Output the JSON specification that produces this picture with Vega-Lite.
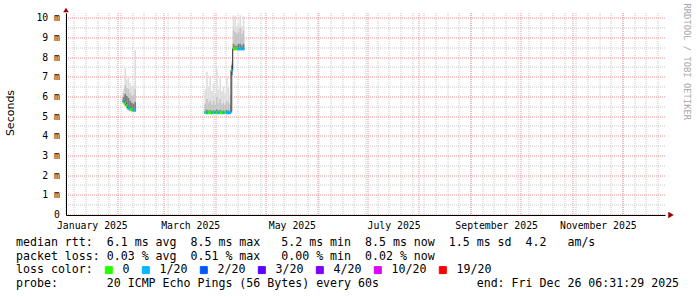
{
  "$schema": "https://vega.github.io/schema/vega-lite/v6.json",
  "width": 599,
  "height": 202,
  "autosize": {"type": "none"},
  "padding": {"left": 66, "top": 13, "right": 32, "bottom": 82},
  "background": "#ffffff",
  "config": {
    "view": {"stroke": null},
    "axis": {"labelFont": "DejaVu Sans Mono", "labelFontSize": 9.8, "labelColor": "#000000", "titleFont": "DejaVu Sans Mono", "titleColor": "#000000", "titleFontWeight": "normal"}
  },
  "datasets": {
    "smoke": [
      {"t":"2025-02-04T00:00:00","t2":"2025-02-05T00:00:00","seg":"a","loss":"1/20","med":0.0058,"lo":0.0056,"q1":0.00565,"d1":0.00572,"d2":0.006,"q3":0.0062,"hi":0.0064},
      {"t":"2025-02-05T00:00:00","t2":"2025-02-06T00:00:00","seg":"a","loss":"0","med":0.0057,"lo":0.00548,"q1":0.00555,"d1":0.00562,"d2":0.00615,"q3":0.0066,"hi":0.00746},
      {"t":"2025-02-06T00:00:00","t2":"2025-02-07T00:00:00","seg":"a","loss":"0","med":0.00555,"lo":0.00535,"q1":0.00542,"d1":0.00548,"d2":0.00605,"q3":0.00645,"hi":0.0069},
      {"t":"2025-02-07T00:00:00","t2":"2025-02-08T00:00:00","seg":"a","loss":"1/20","med":0.00545,"lo":0.00528,"q1":0.00535,"d1":0.00538,"d2":0.00595,"q3":0.0064,"hi":0.00707},
      {"t":"2025-02-08T00:00:00","t2":"2025-02-09T00:00:00","seg":"a","loss":"0","med":0.00538,"lo":0.00525,"q1":0.0053,"d1":0.00532,"d2":0.0058,"q3":0.0062,"hi":0.0067},
      {"t":"2025-02-09T00:00:00","t2":"2025-02-10T00:00:00","seg":"a","loss":"0","med":0.00535,"lo":0.00522,"q1":0.00528,"d1":0.0053,"d2":0.0057,"q3":0.00605,"hi":0.00655},
      {"t":"2025-02-10T00:00:00","t2":"2025-02-11T00:00:00","seg":"a","loss":"1/20","med":0.00533,"lo":0.00522,"q1":0.00527,"d1":0.00528,"d2":0.00565,"q3":0.0061,"hi":0.0066},
      {"t":"2025-02-11T00:00:00","t2":"2025-02-12T00:00:00","seg":"a","loss":"1/20","med":0.00533,"lo":0.00522,"q1":0.00527,"d1":0.00528,"d2":0.00575,"q3":0.0064,"hi":0.00838},
      {"t":"2025-03-25T00:00:00","t2":"2025-03-26T00:00:00","seg":"b","loss":"0","med":0.00521,"lo":0.00512,"q1":0.00515,"d1":0.00517,"d2":0.0053,"q3":0.00565,"hi":0.0064},
      {"t":"2025-03-26T00:00:00","t2":"2025-03-27T00:00:00","seg":"b","loss":"1/20","med":0.0052,"lo":0.00512,"q1":0.00515,"d1":0.00517,"d2":0.00535,"q3":0.0059,"hi":0.00727},
      {"t":"2025-03-27T00:00:00","t2":"2025-03-28T00:00:00","seg":"b","loss":"0","med":0.0052,"lo":0.00512,"q1":0.00515,"d1":0.00517,"d2":0.0053,"q3":0.0057,"hi":0.0065},
      {"t":"2025-03-28T00:00:00","t2":"2025-03-29T00:00:00","seg":"b","loss":"0","med":0.00521,"lo":0.00512,"q1":0.00515,"d1":0.00517,"d2":0.00533,"q3":0.0058,"hi":0.007},
      {"t":"2025-03-29T00:00:00","t2":"2025-03-30T00:00:00","seg":"b","loss":"1/20","med":0.0052,"lo":0.00512,"q1":0.00515,"d1":0.00517,"d2":0.0053,"q3":0.0056,"hi":0.0063},
      {"t":"2025-03-30T00:00:00","t2":"2025-03-31T00:00:00","seg":"b","loss":"0","med":0.0052,"lo":0.00512,"q1":0.00515,"d1":0.00517,"d2":0.00532,"q3":0.0058,"hi":0.0067},
      {"t":"2025-03-31T00:00:00","t2":"2025-04-01T00:00:00","seg":"b","loss":"1/20","med":0.00521,"lo":0.00512,"q1":0.00515,"d1":0.00517,"d2":0.0053,"q3":0.0056,"hi":0.0062},
      {"t":"2025-04-01T00:00:00","t2":"2025-04-02T00:00:00","seg":"b","loss":"0","med":0.0052,"lo":0.00512,"q1":0.00515,"d1":0.00517,"d2":0.00536,"q3":0.006,"hi":0.00746},
      {"t":"2025-04-02T00:00:00","t2":"2025-04-03T00:00:00","seg":"b","loss":"1/20","med":0.0052,"lo":0.00512,"q1":0.00515,"d1":0.00517,"d2":0.0053,"q3":0.0057,"hi":0.0064},
      {"t":"2025-04-03T00:00:00","t2":"2025-04-04T00:00:00","seg":"b","loss":"0","med":0.00521,"lo":0.00512,"q1":0.00515,"d1":0.00517,"d2":0.00534,"q3":0.0059,"hi":0.00695},
      {"t":"2025-04-04T00:00:00","t2":"2025-04-05T00:00:00","seg":"b","loss":"0","med":0.0052,"lo":0.00512,"q1":0.00515,"d1":0.00517,"d2":0.0053,"q3":0.0056,"hi":0.0063},
      {"t":"2025-04-05T00:00:00","t2":"2025-04-06T00:00:00","seg":"b","loss":"1/20","med":0.0052,"lo":0.00512,"q1":0.00515,"d1":0.00517,"d2":0.00531,"q3":0.0057,"hi":0.0065},
      {"t":"2025-04-06T00:00:00","t2":"2025-04-07T00:00:00","seg":"b","loss":"0","med":0.00521,"lo":0.00512,"q1":0.00515,"d1":0.00517,"d2":0.0053,"q3":0.0056,"hi":0.0062},
      {"t":"2025-04-07T00:00:00","t2":"2025-04-08T00:00:00","seg":"b","loss":"1/20","med":0.0052,"lo":0.00512,"q1":0.00515,"d1":0.00517,"d2":0.00534,"q3":0.0058,"hi":0.007},
      {"t":"2025-04-08T00:00:00","t2":"2025-04-09T00:00:00","seg":"b","loss":"1/20","med":0.0052,"lo":0.00512,"q1":0.00515,"d1":0.00517,"d2":0.0053,"q3":0.0057,"hi":0.00645},
      {"t":"2025-04-09T00:00:00","t2":"2025-04-10T00:00:00","seg":"b","loss":"1/20","med":0.00521,"lo":0.00512,"q1":0.00515,"d1":0.00517,"d2":0.0053,"q3":0.0056,"hi":0.0061},
      {"t":"2025-04-10T00:00:00","t2":"2025-04-11T00:00:00","seg":"b","loss":"1/20","med":0.00736,"lo":0.0052,"q1":0.0053,"d1":0.0071,"d2":0.0076,"q3":0.0077,"hi":0.0078},
      {"t":"2025-04-11T00:00:00","t2":"2025-04-12T00:00:00","seg":"b","loss":"0","med":0.00845,"lo":0.00835,"q1":0.00838,"d1":0.0084,"d2":0.0087,"q3":0.0094,"hi":0.01015},
      {"t":"2025-04-12T00:00:00","t2":"2025-04-13T00:00:00","seg":"b","loss":"0","med":0.00845,"lo":0.00835,"q1":0.00838,"d1":0.0084,"d2":0.0086,"q3":0.0093,"hi":0.0101},
      {"t":"2025-04-13T00:00:00","t2":"2025-04-14T00:00:00","seg":"b","loss":"0","med":0.00846,"lo":0.00835,"q1":0.00838,"d1":0.0084,"d2":0.0086,"q3":0.0092,"hi":0.0096},
      {"t":"2025-04-14T00:00:00","t2":"2025-04-15T00:00:00","seg":"b","loss":"1/20","med":0.00845,"lo":0.00835,"q1":0.00838,"d1":0.0084,"d2":0.0087,"q3":0.0093,"hi":0.0097},
      {"t":"2025-04-15T00:00:00","t2":"2025-04-16T00:00:00","seg":"b","loss":"1/20","med":0.00845,"lo":0.00835,"q1":0.00838,"d1":0.0084,"d2":0.0087,"q3":0.0095,"hi":0.01015},
      {"t":"2025-04-16T00:00:00","t2":"2025-04-17T00:00:00","seg":"b","loss":"1/20","med":0.00846,"lo":0.00835,"q1":0.00838,"d1":0.0084,"d2":0.0086,"q3":0.0092,"hi":0.0096},
      {"t":"2025-04-17T00:00:00","t2":"2025-04-18T00:00:00","seg":"b","loss":"1/20","med":0.00845,"lo":0.00835,"q1":0.00838,"d1":0.0084,"d2":0.0087,"q3":0.0094,"hi":0.0101}
    ]
  },
  "layer": [
    {
      "data": {"name": "smoke"},
      "mark": {"type": "rect", "color": "#dedede"},
      "encoding": {
        "x": {"field": "t", "type": "temporal",
          "scale": {"domain": [{"year":2025,"month":1,"date":1}, {"year":2025,"month":12,"date":26,"hours":6,"minutes":31,"seconds":29}], "nice": false},
          "axis": {"orient": "bottom", "zindex": 0, "labels": false, "ticks": false, "domain": false, "translate": 0,
            "grid": true, "gridColor": "#c8c8c8", "gridDash": [1,1], "gridWidth": 1,
            "values": [{"year":2025,"month":1,"date":6},{"year":2025,"month":1,"date":13},{"year":2025,"month":1,"date":20},{"year":2025,"month":1,"date":27},{"year":2025,"month":2,"date":3},{"year":2025,"month":2,"date":10},{"year":2025,"month":2,"date":17},{"year":2025,"month":2,"date":24},{"year":2025,"month":3,"date":3},{"year":2025,"month":3,"date":10},{"year":2025,"month":3,"date":17},{"year":2025,"month":3,"date":24},{"year":2025,"month":3,"date":31},{"year":2025,"month":4,"date":7},{"year":2025,"month":4,"date":14},{"year":2025,"month":4,"date":21},{"year":2025,"month":4,"date":28},{"year":2025,"month":5,"date":5},{"year":2025,"month":5,"date":12},{"year":2025,"month":5,"date":19},{"year":2025,"month":5,"date":26},{"year":2025,"month":6,"date":2},{"year":2025,"month":6,"date":9},{"year":2025,"month":6,"date":16},{"year":2025,"month":6,"date":23},{"year":2025,"month":6,"date":30},{"year":2025,"month":7,"date":7},{"year":2025,"month":7,"date":14},{"year":2025,"month":7,"date":21},{"year":2025,"month":7,"date":28},{"year":2025,"month":8,"date":4},{"year":2025,"month":8,"date":11},{"year":2025,"month":8,"date":18},{"year":2025,"month":8,"date":25},{"year":2025,"month":9,"date":1},{"year":2025,"month":9,"date":8},{"year":2025,"month":9,"date":15},{"year":2025,"month":9,"date":22},{"year":2025,"month":9,"date":29},{"year":2025,"month":10,"date":6},{"year":2025,"month":10,"date":13},{"year":2025,"month":10,"date":20},{"year":2025,"month":10,"date":27},{"year":2025,"month":11,"date":3},{"year":2025,"month":11,"date":10},{"year":2025,"month":11,"date":17},{"year":2025,"month":11,"date":24},{"year":2025,"month":12,"date":1},{"year":2025,"month":12,"date":8},{"year":2025,"month":12,"date":15},{"year":2025,"month":12,"date":22}],
            "title": ["median\u00a0rtt:\u00a0\u00a06.1\u00a0ms\u00a0avg\u00a0\u00a08.5\u00a0ms\u00a0max\u00a0\u00a0\u00a05.2\u00a0ms\u00a0min\u00a0\u00a08.5\u00a0ms\u00a0now\u00a0\u00a01.5\u00a0ms\u00a0sd\u00a0\u00a04.2\u00a0\u00a0\u00a0am/s", "packet\u00a0loss:\u00a00.03\u00a0%\u00a0avg\u00a0\u00a00.51\u00a0%\u00a0max\u00a0\u00a0\u00a00.00\u00a0%\u00a0min\u00a0\u00a00.02\u00a0%\u00a0now"],
            "titleX": -50, "titleY": 31, "titleAlign": "left", "titleBaseline": "alphabetic", "titleAngle": 0,
            "titleFont": "DejaVu Sans Mono", "titleFontSize": 11.6, "titleFontWeight": "normal", "titleColor": "#000000", "titleLineHeight": 13.7}},
        "x2": {"field": "t2"},
        "y": {"field": "lo", "type": "quantitative",
          "scale": {"domain": [0, 0.01027], "nice": false, "zero": false},
          "axis": {"orient": "left", "zindex": 0, "labels": false, "ticks": false, "domain": false, "title": null, "translate": 0,
            "grid": true, "gridColor": "#c8c8c8", "gridDash": [1,1], "gridWidth": 1,
            "values": [0.0005,0.0015,0.0025,0.0035,0.0045,0.0055,0.0065,0.0075,0.0085,0.0095]}},
        "y2": {"field": "hi"}
      }
    },
    {
      "data": {"name": "smoke"},
      "mark": {"type": "rect", "color": "#c4c4c4"},
      "encoding": {
        "x": {"field": "t", "type": "temporal",
          "axis": {"orient": "bottom", "zindex": 0, "labels": false, "ticks": false, "domain": false, "translate": 0,
            "grid": true, "gridColor": "#e89090", "gridDash": [1,1], "gridWidth": 1,
            "values": [{"year":2025,"month":1,"date":1},{"year":2025,"month":2,"date":1},{"year":2025,"month":3,"date":1},{"year":2025,"month":4,"date":1},{"year":2025,"month":5,"date":1},{"year":2025,"month":6,"date":1},{"year":2025,"month":7,"date":1},{"year":2025,"month":8,"date":1},{"year":2025,"month":9,"date":1},{"year":2025,"month":10,"date":1},{"year":2025,"month":11,"date":1},{"year":2025,"month":12,"date":1}],
            "title": "probe:\u00a0\u00a0\u00a0\u00a0\u00a0\u00a0\u00a020\u00a0ICMP\u00a0Echo\u00a0Pings\u00a0(56\u00a0Bytes)\u00a0every\u00a060s\u00a0\u00a0\u00a0\u00a0\u00a0\u00a0\u00a0\u00a0\u00a0\u00a0\u00a0\u00a0\u00a0\u00a0end:\u00a0Fri\u00a0Dec\u00a026\u00a006:31:29\u00a02025",
            "titleX": -50, "titleY": 72.1, "titleAlign": "left", "titleBaseline": "alphabetic", "titleAngle": 0,
            "titleFont": "DejaVu Sans Mono", "titleFontSize": 11.6, "titleFontWeight": "normal", "titleColor": "#000000"}},
        "x2": {"field": "t2"},
        "y": {"field": "q1", "type": "quantitative",
          "axis": {"orient": "left", "zindex": 0, "ticks": false, "domain": false, "translate": 0,
            "grid": true, "gridColor": "#e89090", "gridDash": [1,1], "gridWidth": 1,
            "values": [0,0.001,0.002,0.003,0.004,0.005,0.006,0.007,0.008,0.009,0.01],
            "labelExpr": "datum.value == 0 ? '0\u00a0\u00a0' : format(datum.value * 1000, 'd') + ' m'",
            "labelAlign": "right", "labelBaseline": "middle", "labelPadding": 6,
            "title": "Seconds", "titleFont": "DejaVu Sans", "titleFontSize": 11, "titleAngle": 270,
            "titleX": -55, "titleY": 100, "titleAlign": "center", "titleBaseline": "middle"}},
        "y2": {"field": "q3"}
      }
    },
    {
      "data": {"name": "smoke"},
      "mark": {"type": "rect", "color": "#7c7c7c"},
      "encoding": {
        "x": {"field": "t", "type": "temporal",
          "axis": {"orient": "bottom", "zindex": 1, "grid": false, "ticks": false, "domain": true, "domainColor": "#000000", "title": null,
            "labelExpr": "timeFormat(datum.value, '%B %Y')", "labelPadding": 5, "labelAlign": "center", "labelBaseline": "top",
            "values": [{"year":2025,"month":1,"date":16,"hours":12},{"year":2025,"month":3,"date":16,"hours":12},{"year":2025,"month":5,"date":16,"hours":12},{"year":2025,"month":7,"date":16,"hours":12},{"year":2025,"month":9,"date":16},{"year":2025,"month":11,"date":16}]}},
        "x2": {"field": "t2"},
        "y": {"field": "d1", "type": "quantitative",
          "axis": {"orient": "left", "zindex": 1, "labels": false, "ticks": false, "grid": false, "title": null, "domain": true, "domainColor": "#000000"}},
        "y2": {"field": "d2"}
      }
    },
    {
      "data": {"name": "smoke"},
      "mark": {"type": "line", "color": "#202020", "strokeWidth": 1, "interpolate": "step-after"},
      "encoding": {
        "x": {"field": "t", "type": "temporal", "axis": null},
        "y": {"field": "med", "type": "quantitative",
          "axis": {"orient": "right", "labels": false, "ticks": false, "domain": false, "grid": false,
            "title": "RRDTOOL / TOBI OETIKER", "titleFont": "DejaVu Sans Mono", "titleFontSize": 8.8, "titleColor": "#a8a8a8",
            "titleAngle": 90, "titleX": 21.5, "titleY": -10, "titleAlign": "left", "titleBaseline": "middle"}},
        "detail": {"field": "seg"}
      }
    },
    {
      "data": {"name": "smoke"},
      "mark": {"type": "rule", "strokeWidth": 3, "strokeCap": "butt"},
      "encoding": {
        "x": {"field": "t", "type": "temporal", "axis": null},
        "x2": {"field": "t2"},
        "y": {"field": "med", "type": "quantitative", "axis": null},
        "color": {"field": "loss", "type": "nominal",
          "scale": {"domain": ["0","1/20","2/20","3/20","4/20","10/20","19/20"], "range": ["#26ff00","#00b8ff","#0059ff","#5e00ff","#7e00ff","#dd00ff","#ff0000"]},
          "legend": {"title": "loss color:", "titleOrient": "left", "titlePadding": 10, "titleFont": "DejaVu Sans Mono", "titleFontSize": 11.6, "titleFontWeight": "normal", "titleColor": "#000000", "titleBaseline": "middle",
            "orient": "none", "direction": "horizontal", "legendX": -50, "legendY": 251, "padding": 0,
            "labelFont": "DejaVu Sans Mono", "labelFontSize": 11.6, "labelColor": "#000000", "labelOffset": 8, "columnPadding": 10,
            "symbolType": "square", "symbolSize": 49, "symbolStrokeWidth": 1, "symbolStrokeColor": "#000000",
            "encode": {"symbols": {"update": {"fill": {"scale": "color", "field": "value"}, "stroke": {"value": "#000000"}, "strokeWidth": {"value": 1}, "opacity": {"value": 1}, "shape": {"value": "square"}}}}}}
      }
    },
    {
      "data": {"values": [{}]},
      "mark": {"type": "point", "shape": "triangle-right", "filled": true, "color": "#990000", "size": 40, "opacity": 1, "xOffset": 6},
      "encoding": {
        "x": {"datum": {"year":2025,"month":12,"date":26,"hours":6,"minutes":31,"seconds":29}, "type": "temporal", "axis": null},
        "y": {"datum": 0, "type": "quantitative", "axis": null}
      }
    },
    {
      "data": {"values": [{}]},
      "mark": {"type": "point", "shape": "triangle-up", "filled": true, "color": "#990000", "size": 30, "opacity": 1, "yOffset": -3},
      "encoding": {
        "x": {"datum": {"year":2025,"month":1,"date":1}, "type": "temporal", "axis": null},
        "y": {"datum": 0.01027, "type": "quantitative", "axis": null}
      }
    }
  ],
  "resolve": {"axis": {"x": "independent", "y": "independent"}}
}
